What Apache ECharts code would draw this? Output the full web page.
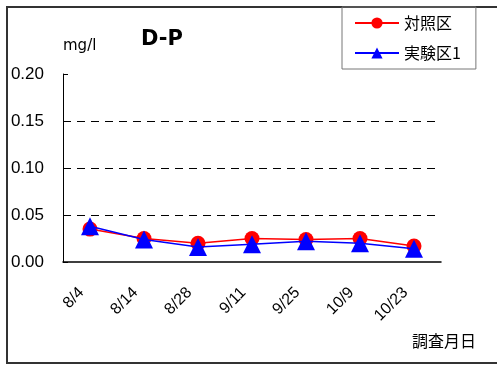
<!DOCTYPE html>
<html><head><meta charset="utf-8">
<script src="https://cdn.jsdelivr.net/npm/echarts@6/dist/echarts.min.js"></script>
<style>html,body{margin:0;padding:0;background:#fff}#c{width:497px;height:365px}</style>
</head><body><div id="c"></div>
<script>
var categories = ['8/4','8/14','8/28','9/11','9/25','10/9','10/23'];
var controlValues = [0.035, 0.025, 0.020, 0.025, 0.024, 0.025, 0.017];
var experimentValues = [0.038, 0.024, 0.016, 0.019, 0.022, 0.020, 0.014];
var gridLineValues = [0.05, 0.10, 0.15];
var seriesNames = ['対照区', '実験区1'];

var chart = echarts.init(document.getElementById('c'), null, {renderer:'canvas'});
var numFont = 'Liberation Sans, Arial, sans-serif';
var jpFont = 'Noto Sans CJK JP, sans-serif';
chart.setOption({
  animation:false,
  backgroundColor:'#fff',
  title:{text:'D-P', left:136, top:24, textStyle:{fontSize:21, fontWeight:'bold', color:'#000', fontFamily:'DejaVu Sans'}},
  legend:{
    left:342, top:7, orient:'vertical', padding:[8,15,8,12], itemGap:14,
    itemWidth:44, itemHeight:14, borderColor:'#777', borderWidth:1, borderRadius:0,
    textStyle:{fontSize:16, color:'#000', fontFamily:jpFont},
    data:seriesNames
  },
  grid:{left:63, right:56, top:74, bottom:103},
  xAxis:{
    type:'category', data:categories, boundaryGap:true,
    axisLine:{lineStyle:{color:'#000', width:1.5}},
    axisTick:{inside:true, length:5, lineStyle:{color:'#000'}},
    axisLabel:{rotate:45, margin:31, padding:[0,4,0,0], verticalAlign:'bottom', fontSize:16, color:'#000', fontFamily:numFont},
    name:'調査月日', nameLocation:'end', nameGap:0,
    nameTextStyle:{fontSize:16, color:'#000', fontFamily:jpFont, align:'left', verticalAlign:'top', padding:[71,0,0,-29]}
  },
  yAxis:{
    type:'value', min:0, max:0.2, interval:0.05,
    axisLine:{show:true, lineStyle:{color:'#000', width:1}},
    axisTick:{show:true, inside:true, length:5, lineStyle:{color:'#000'}},
    splitLine:{show:false},
    axisLabel:{margin:19, fontSize:17, color:'#000', fontFamily:numFont, padding:[6,0,0,0], formatter:function(v){return v.toFixed(2);}},
    name:'mg/l', nameLocation:'end', nameGap:20,
    nameTextStyle:{fontSize:15, color:'#000', fontFamily:'DejaVu Sans', align:'left'}
  },
  series:[
    {name:seriesNames[0], type:'line', data:controlValues, symbol:'circle', symbolSize:15,
     itemStyle:{color:'#ff0000'}, lineStyle:{color:'#ff0000', width:1.5}, z:3,
     markLine:{silent:true, symbol:'none', label:{show:false},
       lineStyle:{color:'#000', type:[8,6], width:1},
       data:gridLineValues.map(function(v){return {yAxis:v};})}},
    {name:seriesNames[1], type:'line', data:experimentValues, symbol:'triangle', symbolSize:18,
     itemStyle:{color:'#0000ff'}, lineStyle:{color:'#0000ff', width:1.5}, z:4}
  ],
  graphic:[
    {type:'rect', shape:{x:7, y:7, width:500, height:356}, style:{fill:'none', stroke:'#333', lineWidth:2}, silent:true, z:-1}
  ]
});
</script></body></html>
